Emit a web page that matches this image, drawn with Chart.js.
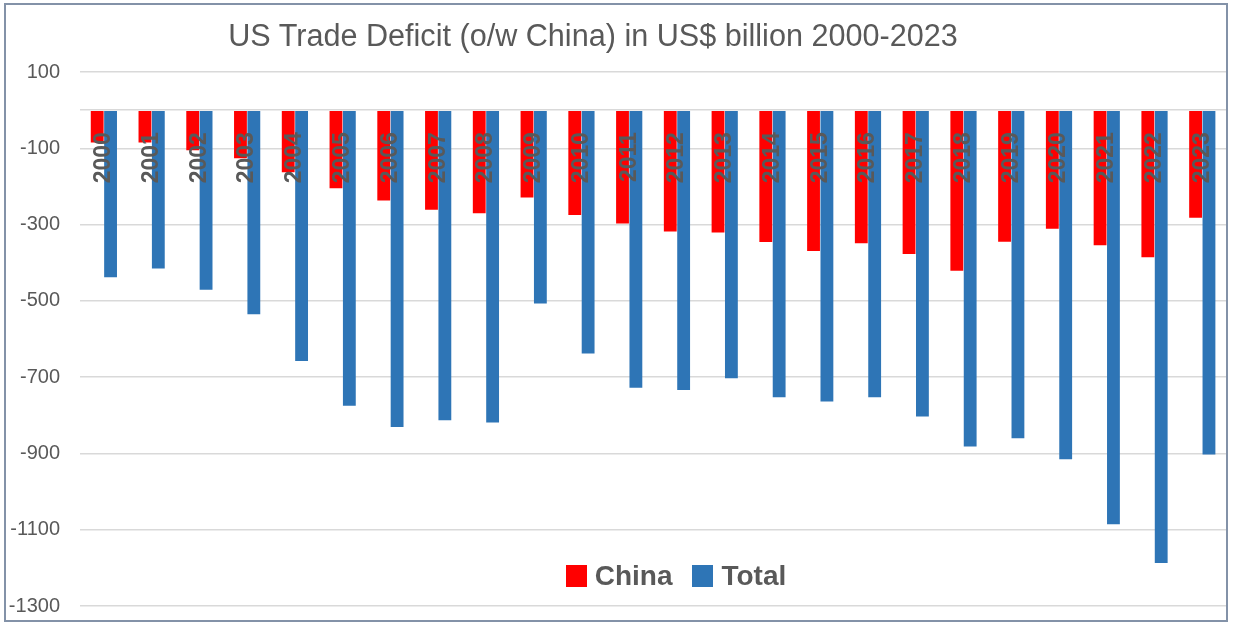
<!DOCTYPE html>
<html>
<head>
<meta charset="utf-8">
<script src="https://cdn.jsdelivr.net/npm/chart.js@4.4.1/dist/chart.umd.min.js"></script>
<style>
    html, body { margin: 0; padding: 0; background: #fff; }
    #wrap { position: absolute; left: 0; top: 0; width: 1233px; height: 623px; }
    #frame {
        position: absolute; left: 4px; top: 3px; width: 1220px; height: 615px;
        border: 2px solid #8392a8; pointer-events: none;
    }
    #title {
        position: absolute; left: 0; top: 20px; width: 1186px; text-align: center;
        font-family: 'Liberation Sans', Arial, sans-serif; font-size: 30.6px; line-height: 30px;
        color: #595959; white-space: nowrap;
    }
    #legend {
        position: absolute; left: 476px; width: 400px; top: 562px;
        display: flex; justify-content: center; align-items: center;
        font-family: 'Liberation Sans', Arial, sans-serif; font-weight: bold;
        font-size: 28px; line-height: 28px; color: #595959;
    }
    #legend .item { display: flex; align-items: center; margin: 0 10px; }
    #legend .box { width: 21px; height: 22px; margin-right: 8px; }
</style>
</head>
<body>
<div id="wrap">
    <canvas id="deficit-chart"></canvas>
    <div id="title">US Trade Deficit (o/w China) in US$ billion 2000-2023</div>
    <div id="legend"></div>
    <div id="frame"></div>
</div>
<script>
// ================================
// US TRADE DEFICIT - CHART DATA
// ================================

const years = ['2000', '2001', '2002', '2003', '2004', '2005', '2006', '2007',
    '2008', '2009', '2010', '2011', '2012', '2013', '2014', '2015',
    '2016', '2017', '2018', '2019', '2020', '2021', '2022', '2023'];

// US$ billion
const chinaDeficit = [-85, -85, -105, -126, -163, -205, -237, -261,
    -270, -229, -275, -297, -318, -321, -346, -369,
    -349, -377, -421, -345, -311, -354, -386, -282];

const totalDeficit = [-438, -415, -471, -535, -658, -775, -831, -813,
    -819, -507, -638, -728, -734, -703, -753, -764,
    -753, -803, -882, -860, -915, -1086, -1187, -903];

const seriesNames = ['China', 'Total'];

const yMin = -1300;
const yMax = 100;
const yStep = 200;

const colors = {
    china: '#ff0000',
    total: '#2e75b6',
    text: '#595959',
    grid: '#d9d9d9'
};

/**
 * Render the grouped bar chart
 */
function renderDeficitChart() {
    const ctx = document.getElementById('deficit-chart').getContext('2d');

    return new Chart(ctx, {
        type: 'bar',
        data: {
            labels: years,
            datasets: [{
                label: seriesNames[0],
                data: chinaDeficit,
                backgroundColor: colors.china,
                borderWidth: 0,
                categoryPercentage: 0.56,
                barPercentage: 0.96
            }, {
                label: seriesNames[1],
                data: totalDeficit,
                backgroundColor: colors.total,
                borderWidth: 0,
                categoryPercentage: 0.56,
                barPercentage: 0.96
            }]
        },
        options: {
            responsive: true,
            maintainAspectRatio: false,
            animation: false,
            layout: {
                padding: { top: 72, bottom: 17, left: 0, right: 6 }
            },
            plugins: {
                legend: { display: false },
                title: { display: false },
                tooltip: { enabled: false }
            },
            scales: {
                x: {
                    position: { y: 0 },
                    grid: {
                        display: true,
                        drawOnChartArea: false,
                        drawTicks: true,
                        tickLength: 19,
                        tickColor: 'rgba(0,0,0,0)'
                    },
                    border: { display: false },
                    ticks: {
                        autoSkip: false,
                        maxRotation: 90,
                        minRotation: 90,
                        z: 1,
                        color: colors.text,
                        font: {
                            family: "'Liberation Sans', Arial, sans-serif",
                            size: 23,
                            weight: 'bold'
                        }
                    }
                },
                y: {
                    min: yMin,
                    max: yMax,
                    afterFit: function(scale) {
                        scale.width = 80;
                        // label padding should not push the plot edges in
                        scale.paddingTop = 0;
                        scale.paddingBottom = 0;
                    },
                    afterBuildTicks: function(scale) {
                        // the zero line is drawn like a gridline but carries no label
                        scale.ticks.push({ value: 0 });
                        scale.ticks.sort((a, b) => a.value - b.value);
                    },
                    grid: {
                        color: colors.grid,
                        lineWidth: 1.5,
                        drawTicks: false
                    },
                    border: { display: false },
                    ticks: {
                        stepSize: yStep,
                        padding: 20,
                        color: colors.text,
                        font: {
                            family: "'Liberation Sans', Arial, sans-serif",
                            size: 20
                        },
                        callback: function(value) {
                            return value === 0 ? '' : value;
                        }
                    }
                }
            }
        }
    });
}

/**
 * Build the legend under the bars from the chart datasets
 */
function renderLegend(chart) {
    const legend = document.getElementById('legend');
    chart.data.datasets.forEach(ds => {
        const item = document.createElement('div');
        item.className = 'item';
        const box = document.createElement('span');
        box.className = 'box';
        box.style.background = ds.backgroundColor;
        const label = document.createElement('span');
        label.textContent = ds.label;
        item.appendChild(box);
        item.appendChild(label);
        legend.appendChild(item);
    });
}

const deficitChart = renderDeficitChart();
renderLegend(deficitChart);
</script>
</body>
</html>
